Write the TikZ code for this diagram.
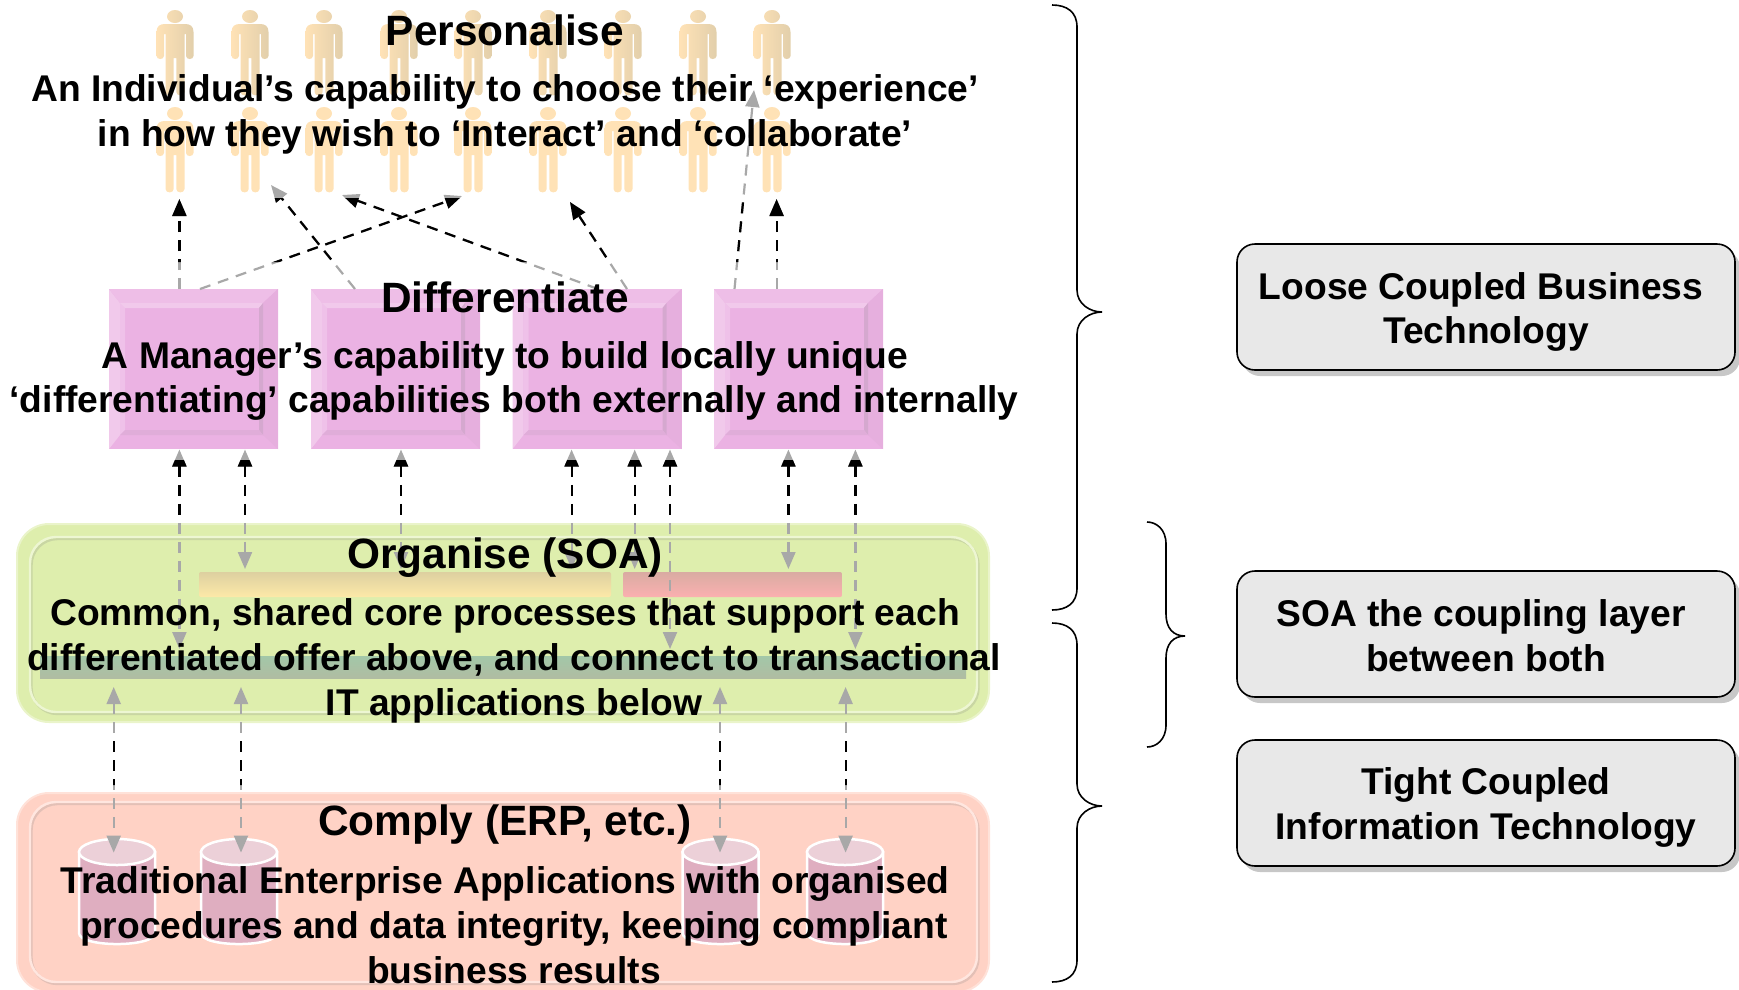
\documentclass[tikz,border=0pt]{standalone}
\usepackage{fontspec}
\setmainfont{Liberation Sans}
\usetikzlibrary{shapes.geometric, positioning, arrows.meta, shadows}

\definecolor{manskin}{HTML}{FFE2B6}
\definecolor{manshade}{HTML}{E2CFAB}
\definecolor{mauveface}{HTML}{EBB2E3}
\definecolor{soagreen}{HTML}{DEEEAD}
\definecolor{erpred}{HTML}{FFD2C5}
\definecolor{linkgrey}{HTML}{A8A8A8}
\definecolor{diskbody}{HTML}{DFAEC0}
\definecolor{diskend}{HTML}{ECD0D8}
\definecolor{barsand}{HTML}{DDD0A0}
\definecolor{baryolk}{HTML}{FDE9A8}
\definecolor{barrust}{HTML}{D9ABA2}
\definecolor{barrose}{HTML}{FBB0B0}
\definecolor{barteala}{HTML}{A2C7A8}
\definecolor{bartealb}{HTML}{A8D4B0}
\definecolor{bartealc}{HTML}{B0BCA2}

\newcommand{\titlefont}{\fontsize{42.4}{48}\selectfont\bfseries}
\newcommand{\bodyfont}{\fontsize{37.2}{44.9}\selectfont\bfseries}

% x-end, spine, tip, top, tip height, bottom
\newcommand{\drawcurly}[6]{%
    \draw[line width=1.6pt] (#1,#4) .. controls (#2-10,#4) and (#2,#4+7) .. (#2,#4+22)
        -- (#2,#5-22) .. controls (#2,#5-8) and (#3-12,#5) .. (#3,#5)
        .. controls (#3-12,#5) and (#2,#5+8) .. (#2,#5+22)
        -- (#2,#6-22) .. controls (#2,#6-7) and (#2-10,#6) .. (#1,#6);
}

\newcommand{\drawlinks}[1]{%
    \foreach \from/\to in {uaa/uab, uba/ubb, uca/ucb, uda/udb, uea/ueb, ufa/ufb, uga/ugb}
        \draw[uplink, #1] (\from) -- (\to);
    \foreach \from/\to in {maa/mab, mba/mbb, mca/mcb, mda/mdb, mea/meb, mfa/mfb, mga/mgb, mha/mhb,
                           laa/lab, lba/lbb, lca/lcb, lda/ldb}
        \draw[duallink, #1] (\from) -- (\to);
}

\tikzset{
    layerbox/.style={rounded corners=32pt, minimum width=972pt, inner sep=0pt, outer sep=0pt, line width=2pt},
    rimbox/.style={rounded corners=26pt, minimum width=947pt, inner sep=0pt, outer sep=0pt, line width=2.4pt},
    flowbar/.style={rounded corners=2pt, inner sep=0pt, outer sep=0pt, minimum height=25pt},
    noticebox/.style={rounded corners=18pt, draw=black, line width=1.6pt, fill=black!9,
        minimum width=498pt, minimum height=126pt, inner sep=0pt,
        drop shadow={shadow xshift=5pt, shadow yshift=-6pt, fill=black!22, opacity=1}},
    uplink/.style={line width=2.2pt, dash pattern=on 11pt off 8pt, -{Triangle[width=14pt, length=17pt]}},
    duallink/.style={line width=2.2pt, dash pattern=on 11pt off 8pt,
        {Triangle[width=14pt, length=17pt]}-{Triangle[width=14pt, length=17pt]}},
    capnode/.style={font=\titlefont, inner sep=0pt},
    textnode/.style={font=\bodyfont, align=center, inner sep=0pt},
    pics/diskstack/.style={code={
        \draw[draw=white, line width=2.5pt, fill=diskbody]
            (-38,13) -- (-38,94) .. controls (-38,108.7) and (38,108.7) .. (38,94) -- (38,13) -- cycle;
        \draw[draw=white, line width=2.5pt, fill=diskend] (0,13) ellipse [x radius=38, y radius=13];
    }},
    pics/stickman/.style={code={
        \shade[left color=manskin, right color=#1]
            (0,6.5) ellipse [x radius=8, y radius=6.5]
            (-10,14) -- (10,14) .. controls (15,14) and (18.5,16) .. (18.5,22)
            -- (18.5,46) .. controls (18.5,50) and (11,50) .. (11,46)
            -- (11,24) -- (9.5,24) -- (9.5,82) .. controls (9.5,86.5) and (1.3,86.5) .. (1.3,82)
            -- (1.3,48) -- (-1.3,48) -- (-1.3,82) .. controls (-1.3,86.5) and (-9.5,86.5) .. (-9.5,82)
            -- (-9.5,24) -- (-11,24) -- (-11,46) .. controls (-11,50) and (-18.5,50) .. (-18.5,46)
            -- (-18.5,22) .. controls (-18.5,16) and (-15,14) .. (-10,14) -- cycle;
    }}
}

\begin{document}
\begin{tikzpicture}[x=1pt, y=-1pt]
    \useasboundingbox (0,0) rectangle (1739,989);

    \foreach \x in {175,250,324,399,473,548,623,698,772} {
        \pic at (\x,10) {stickman=manshade};
        \pic at (\x,107) {stickman=manskin};
    }

    \foreach \name/\x in {diffa/109, diffb/311, diffc/512.5, diffd/714} {
        \node[fill=mauveface, minimum width=169pt, minimum height=160pt, inner sep=0pt, outer sep=0pt, anchor=north west] (\name) at (\x,289) {};
        \begin{scope}[shift={(\x,289)}]
            \fill[fill=mauveface!70!white] (0,0) -- (11,14) -- (11,146) -- (0,160) -- cycle;
            \fill[fill=mauveface!85!white] (0,0) -- (169,0) -- (154,14) -- (11,14) -- cycle;
            \fill[fill=mauveface!95!gray] (169,0) -- (169,160) -- (154,146) -- (154,14) -- cycle;
            \fill[fill=mauveface!80!white] (11,14) -- (16,19) -- (16,141) -- (11,146) -- cycle;
            \fill[fill=mauveface!70!white] (11,14) -- (154,14) -- (150,19) -- (16,19) -- cycle;
            \fill[fill=mauveface!80!gray] (154,14) -- (154,146) -- (150,141) -- (150,19) -- cycle;
            \fill[fill=mauveface!90!gray] (11,146) -- (154,146) -- (150,141) -- (16,141) -- cycle;
        \end{scope}
    }

    \node[layerbox, draw=soagreen!65!white, fill=soagreen, minimum height=198pt] (organise) at (503,623) {};
    \node[rimbox, draw=soagreen!78!gray, minimum height=175pt] (organiserimb) at (505,626.5) {};
    \node[rimbox, draw=soagreen!55!white, minimum height=175pt] (organiserim) at (503.5,624.5) {};
    \node[layerbox, draw=erpred!65!white, fill=erpred, minimum height=199pt] (comply) at (503,892.5) {};
    \node[rimbox, draw=erpred!78!gray, minimum height=180pt] (complyrimb) at (505,894) {};
    \node[rimbox, draw=erpred!55!white, minimum height=180pt] (complyrim) at (503.5,892) {};

    \node[flowbar, minimum width=412pt, top color=barsand, bottom color=baryolk] (baryellow) at (405,584.5) {};
    \node[flowbar, minimum width=219pt, top color=barrust, bottom color=barrose] (barpink) at (732.5,584.5) {};
    \node[flowbar, rounded corners=0pt, minimum width=926pt, minimum height=22pt, top color=barteala, middle color=bartealb, bottom color=bartealc] (barteal) at (503,667) {};

    \foreach \x in {117,239,720.5,845}
        \pic at (\x,839) {diskstack};

    % arrows up to the people
    \coordinate (uaa) at (179.4,289); \coordinate (uab) at (179.4,199);
    \coordinate (uba) at (200,289); \coordinate (ubb) at (462,196);
    \coordinate (uca) at (355,289); \coordinate (ucb) at (271,185);
    \coordinate (uda) at (598,289); \coordinate (udb) at (342,195);
    \coordinate (uea) at (627,289); \coordinate (ueb) at (570,202);
    \coordinate (ufa) at (734.5,289); \coordinate (ufb) at (754,90);
    \coordinate (uga) at (776.6,289); \coordinate (ugb) at (776.6,199);

    % arrows between differentiate and organise
    \coordinate (maa) at (179.4,449.5); \coordinate (mab) at (179.4,649);
    \coordinate (mba) at (245,449.5); \coordinate (mbb) at (245,569);
    \coordinate (mca) at (401,449.5); \coordinate (mcb) at (401,569);
    \coordinate (mda) at (571.6,449.5); \coordinate (mdb) at (571.6,569);
    \coordinate (mea) at (634.7,449.5); \coordinate (meb) at (634.7,569);
    \coordinate (mfa) at (670,449.5); \coordinate (mfb) at (670,649);
    \coordinate (mga) at (788.4,449.5); \coordinate (mgb) at (788.4,569);
    \coordinate (mha) at (855.4,449.5); \coordinate (mhb) at (855.4,649);

    % arrows between organise and comply
    \coordinate (laa) at (113.7,687); \coordinate (lab) at (113.7,852.6);
    \coordinate (lba) at (241,687); \coordinate (lbb) at (241,852.6);
    \coordinate (lca) at (720,687); \coordinate (lcb) at (720,852.6);
    \coordinate (lda) at (845.6,687); \coordinate (ldb) at (845.6,852.6);

    \drawlinks{linkgrey}
    \begin{scope}
        \clip (0,198) rectangle (1000,262) (0,460) rectangle (1000,518) (0,737) rectangle (1000,785);
        \drawlinks{black}
    \end{scope}

    \node[capnode] (personalise) at (505,30) {Personalise};
    \node[textnode] (personalisetext) at (505,114.5) {An Individual’s capability to choose their ‘experience’\\in how they wish to ‘Interact’ and ‘collaborate’};
    \node[capnode] (differentiate) at (505,297) {Differentiate};
    \node[textnode] (differentiatetext) at (514,381) {A Manager’s capability to build locally unique\hspace*{18pt}\\‘differentiating’ capabilities both externally and internally};
    \node[capnode] (organisecap) at (505,558) {Organise (SOA)};
    \node[textnode] (organisetext) at (514,660.5) {Common, shared core processes that support each\hspace*{18pt}\\differentiated offer above, and connect to transactional\\IT applications below};
    \node[capnode] (complycap) at (505,825) {Comply (ERP, etc.)};
    \node[textnode] (complytext) at (514,925) {Traditional Enterprise Applications with organised\hspace*{18pt}\\procedures and data integrity, keeping compliant\\business results};

    \drawcurly{1052}{1077}{1102}{5}{312}{610}
    \drawcurly{1147}{1166}{1185}{522}{636}{747}
    \drawcurly{1052}{1077}{1102}{623}{806}{982}

    \node[noticebox] (loose) at (1486,307) {};
    \node[noticebox] (soalayer) at (1486,634) {};
    \node[noticebox] (tight) at (1486,803) {};
    \node[textnode] (loosetext) at (1486,312) {Loose Coupled Business\hspace*{10pt}\\Technology};
    \node[textnode] (soalayertext) at (1486,635.5) {SOA the coupling layer\hspace*{10pt}\\between both};
    \node[textnode] (tighttext) at (1486,807.5) {Tight Coupled\\Information Technology};
\end{tikzpicture}
\end{document}
